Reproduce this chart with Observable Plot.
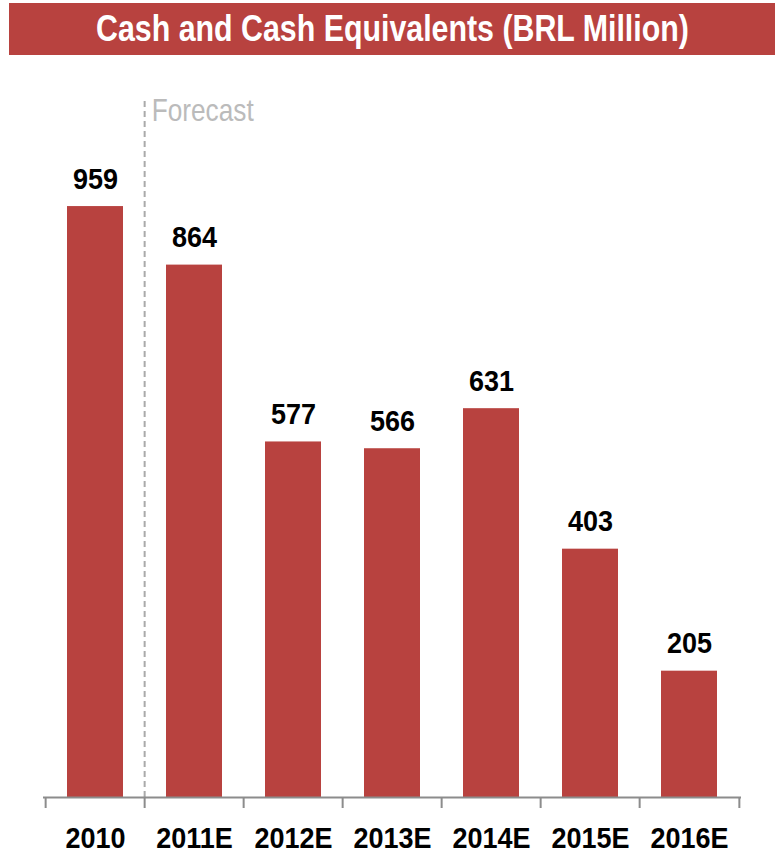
<!DOCTYPE html>
<html>
<head>
<meta charset="utf-8">
<script src="https://cdn.jsdelivr.net/npm/d3@7"></script>
<script src="https://cdn.jsdelivr.net/npm/@observablehq/plot@0.6"></script>
<style>
  html, body { margin: 0; padding: 0; background: #fff; }
  #title {
    margin: 3px 0 0 9px;
    width: 766px;
    height: 52px;
    background: #B8423F;
    color: #fff;
    font-family: "Liberation Sans", Arial, sans-serif;
    font-weight: bold;
    font-size: 37px;
    line-height: 52px;
    text-align: center;
    white-space: nowrap;
    overflow: hidden;
  }
  #title span { display: inline-block; transform: scaleX(0.82); transform-origin: center; }
  #chart svg { display: block; }
</style>
</head>
<body>
<div id="title"><span>Cash and Cash Equivalents (BRL Million)</span></div>
<div id="chart"></div>
<script>
const categories = ["2010", "2011E", "2012E", "2013E", "2014E", "2015E", "2016E"];
const values = [959, 864, 577, 566, 631, 403, 205];
const forecastStart = "2011E";
const forecastLabel = "Forecast";

const data = categories.map((c, i) => ({category: c, value: values[i]}));

const W = 775, H = 799;
const mL = 43, mR = 34, mT = 42, mB = 57;
const yMax = 1136;
const padIn = 0.43, padOut = 0.215;
const step = (W - mL - mR) / (categories.length - padIn + 2 * padOut);
const pxPerUnit = (H - mT - mB) / yMax;
const tickLen = 11 / pxPerUnit;
const barColor = "#B8423F";
const axisColor = "#8c8c8c";
const font = "'Liberation Sans', Arial, sans-serif";
const narrowBold = 0.9;
const narrowLight = 0.82;

const chart = Plot.plot({
  width: W,
  height: H,
  marginLeft: mL,
  marginRight: mR,
  marginTop: mT,
  marginBottom: mB,
  style: {fontFamily: font, background: "#fff", overflow: "visible"},
  x: {type: "band", domain: categories, paddingInner: padIn, paddingOuter: padOut, label: null},
  y: {domain: [0, yMax], axis: null},
  marks: [
    Plot.barY(data, {x: "category", y: "value", fill: barColor}),
    Plot.ruleX([forecastStart], {x: d => d, y1: 0, y2: yMax, dx: -step / 2, stroke: "#aaaaaa", strokeWidth: 2, strokeDasharray: "6,4"}),
    Plot.text([forecastLabel], {x: () => forecastStart, y: () => yMax, text: d => d, dx: -step / 2 + 7, dy: 13, textAnchor: "start", lineAnchor: "middle", fontSize: 32, fill: "#bbbbbb"}),
    Plot.ruleY([0], {stroke: axisColor, strokeWidth: 2}),
    Plot.ruleX(categories, {x: d => d, y1: 0, y2: -tickLen, dx: -step / 2, stroke: axisColor, strokeWidth: 2}),
    Plot.ruleX(categories.slice(-1), {x: d => d, y1: 0, y2: -tickLen, dx: step / 2, stroke: axisColor, strokeWidth: 2}),
    Plot.text(data, {x: "category", y: "value", text: d => String(d.value), dy: -18, lineAnchor: "bottom", fontSize: 30, fontWeight: "bold", fill: "#000"}),
    Plot.axisX({tickSize: 0, tickPadding: 29, fontSize: 30, fontWeight: "bold", color: "#000", label: null})
  ]
});
// condense glyphs horizontally (Arial Narrow look)
chart.querySelectorAll("text").forEach(t => {
  const k = t.textContent === forecastLabel ? narrowLight : narrowBold;
  const tr = t.getAttribute("transform") || "";
  t.setAttribute("transform", (tr + ` scale(${k},1)`).trim());
});
document.getElementById("chart").appendChild(chart);
</script>
</body>
</html>
